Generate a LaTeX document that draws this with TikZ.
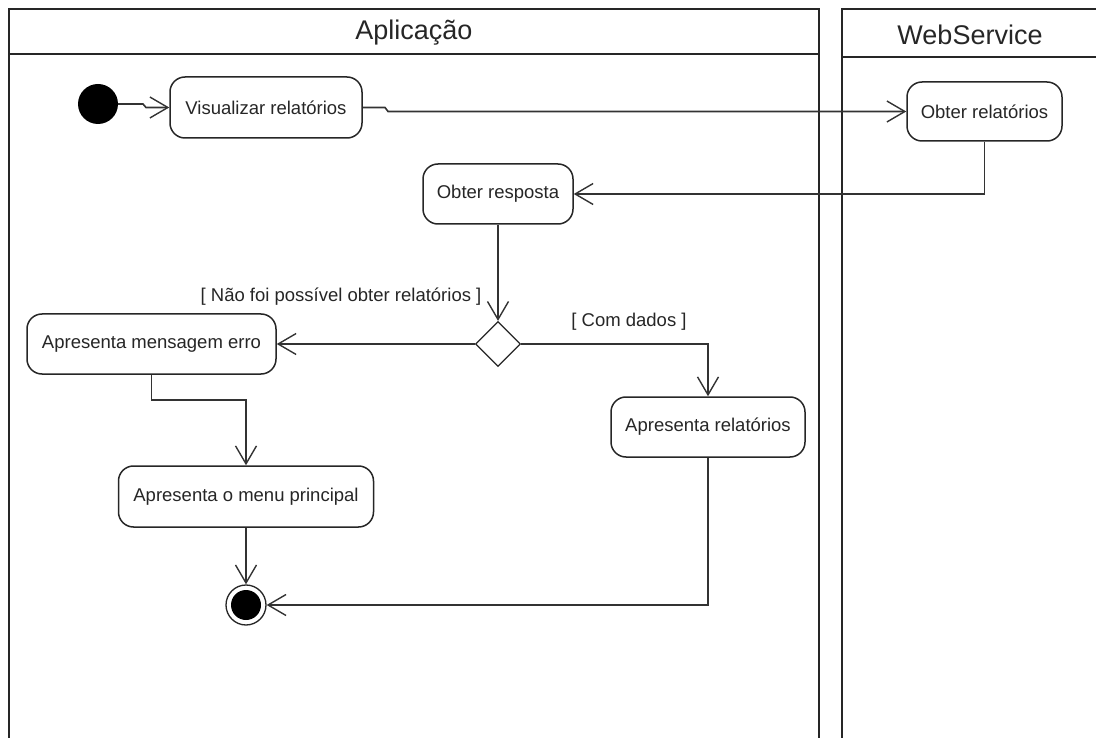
\documentclass[tikz,border=0pt]{standalone}
\usepackage{fontspec}
\setmainfont{Liberation Sans}
\usetikzlibrary{arrows.meta,shapes.geometric}

\begin{document}
\begin{tikzpicture}[x=1pt,y=-1pt,
  line join=miter,
  lane/.style={draw=black!85, line width=1.6pt},
  lanetitle/.style={font=\fontsize{27}{30}\selectfont, text=black!85},
  action/.style={draw=black!85, line width=1.5pt, rounded corners=15pt,
    fill=white, font=\fontsize{18.5}{22}\selectfont, text=black!85,
    inner sep=0pt},
  startnode/.style={circle, fill=black, minimum size=40pt, inner sep=0pt},
  endnode/.style={circle, draw=black!85, line width=1.3pt, fill=white,
    minimum size=40pt, inner sep=0pt,
    path picture={\fill[black] (path picture bounding box.center) circle (15pt);}},
  decision/.style={diamond, draw=black!85, line width=1.3pt, fill=white,
    minimum width=45pt, minimum height=45pt, inner sep=0pt, aspect=1},
  guard/.style={font=\fontsize{18.5}{22}\selectfont, text=black!85, inner sep=0pt},
  flow/.style={draw=black!80, line width=1.6pt,
    -{Straight Barb[length=18pt,width=21pt,line width=1.4pt]}},
]
\useasboundingbox (0,0) rectangle (1096,738);

% swimlanes
\draw[lane] (9,745) -- (9,9) -- (819,9) -- (819,745);
\draw[lane] (9,54) -- (819,54);
\node[lanetitle] (tapp) at (414,33) {Aplicação};
\draw[lane] (842,745) -- (842,9) -- (1100,9);
\draw[lane] (842,57) -- (1100,57);
\node[lanetitle] (tws) at (970,35) {WebService};

% activity nodes
\node[startnode] (init) at (98,104) {};
\node[action, minimum width=192pt, minimum height=61pt] (vis) at (266,107.5) {Visualizar relatórios};
\node[action, minimum width=155pt, minimum height=59pt] (obt) at (984.5,111.5) {Obter relatórios};
\node[action, minimum width=150pt, minimum height=60pt] (resp) at (498,194) {Obter resposta};
\node[decision] (dec) at (498,344) {};
\node[action, minimum width=249pt, minimum height=60pt] (erro) at (151.5,344) {Apresenta mensagem erro};
\node[action, minimum width=194pt, minimum height=60pt] (rel) at (708,427) {Apresenta relatórios};
\node[action, minimum width=255pt, minimum height=61pt] (menu) at (246,496.5) {Apresenta o menu principal};
\node[endnode] (fim) at (246,605) {};

% guard labels
\node[guard] (gerro) at (341,297) {[ Não foi possível obter relatórios ]};
\node[guard] (gdados) at (629,322) {[ Com dados ]};

% control flows
\coordinate (j1a) at (143,104);
\coordinate (j1b) at (146,107.5);
\draw[flow] (init.east) -- (j1a) -- (j1b) -- (vis.west);
\coordinate (j2a) at (385,107.5);
\coordinate (j2b) at (388,111.5);
\draw[flow] (vis.east) -- (j2a) -- (j2b) -- (obt.west);
\draw[flow] (obt.south) |- (resp.east);
\draw[flow] (resp.south) -- (dec.north);
\draw[flow] (dec.west) -- (erro.east);
\draw[flow] (dec.east) -| (rel.north);
\draw[flow] (erro.south) -- ++(0,25) -| (menu.north);
\draw[flow] (menu.south) -- (fim.north);
\draw[flow] (rel.south) |- (fim.east);
\end{tikzpicture}
\end{document}
